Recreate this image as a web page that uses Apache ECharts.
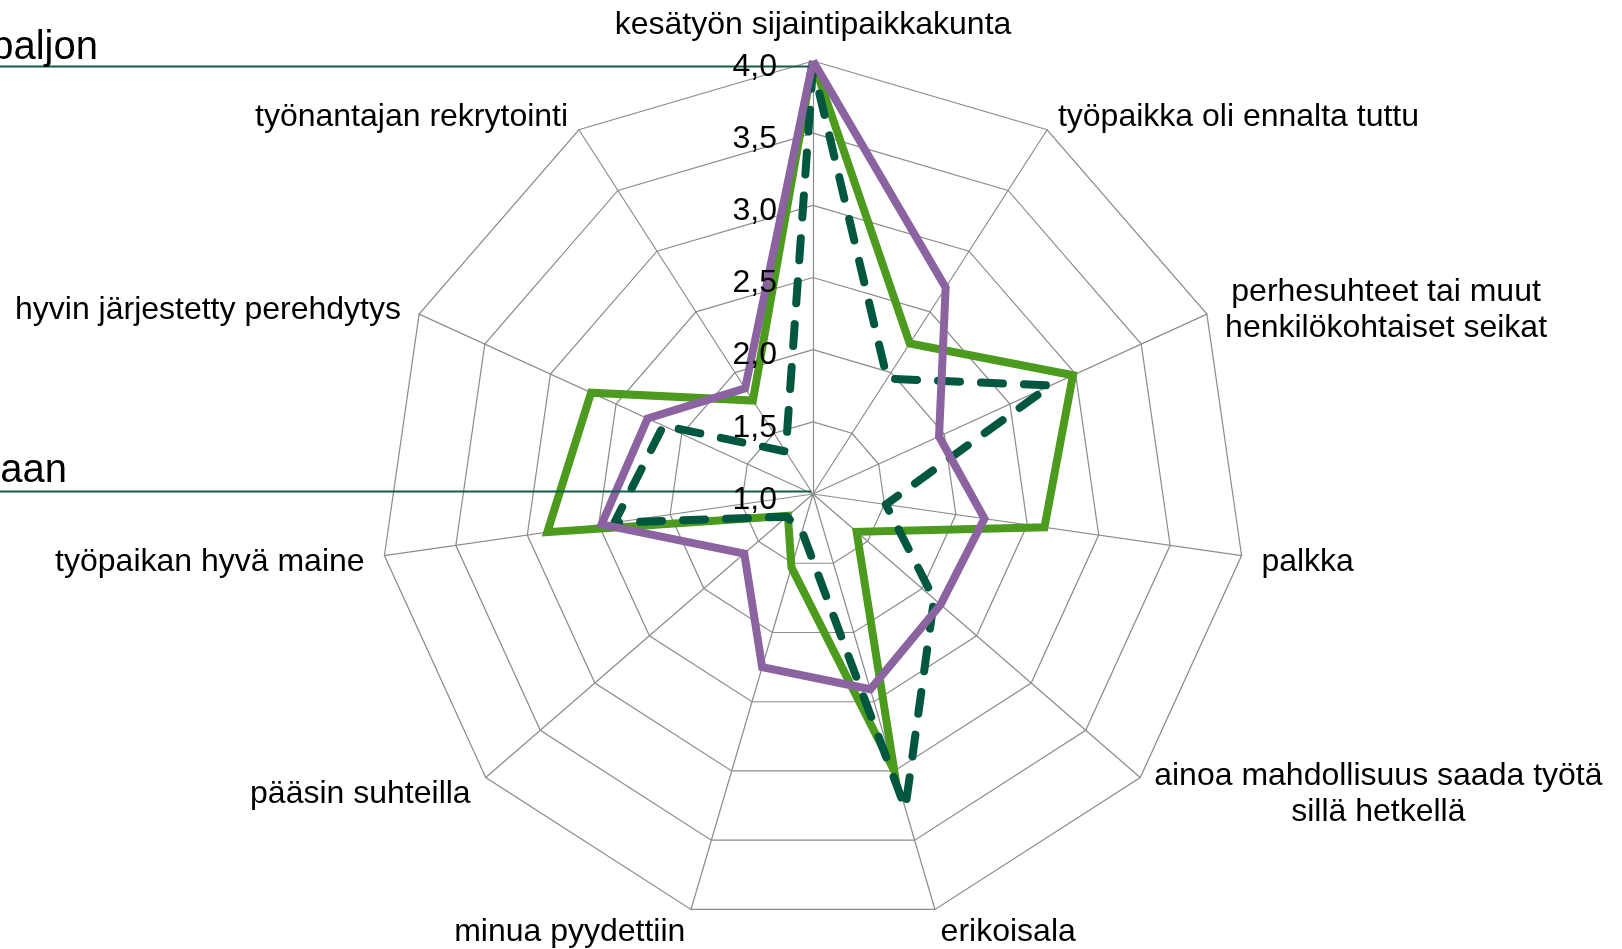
<!DOCTYPE html>
<html>
<head>
<meta charset="utf-8">
<script src="https://cdn.jsdelivr.net/npm/echarts@6/dist/echarts.min.js"></script>
<style>
html,body{margin:0;padding:0;background:#fff;}
#chart{width:1622px;height:949px;}
</style>
</head>
<body>
<div id="chart"></div>
<script>
// Categories in clockwise order starting from the top
const categories = [
  'kesätyön sijaintipaikkakunta',
  'työpaikka oli ennalta tuttu',
  'perhesuhteet tai muut\nhenkilökohtaiset seikat',
  'palkka',
  'ainoa mahdollisuus saada työtä\nsillä hetkellä',
  'erikoisala',
  'minua pyydettiin',
  'pääsin suhteilla',
  'työpaikan hyvä maine',
  'hyvin järjestetty perehdytys',
  'työnantajan rekrytointi'
];
const seriesGreen  = [4.00, 2.24, 2.98, 2.62, 1.40, 3.00, 1.53, 1.23, 2.86, 2.69, 1.77];
const seriesDashed = [3.96, 1.95, 2.81, 1.51, 2.11, 3.27, 1.27, 1.24, 2.39, 2.14, 1.35];
const seriesPurple = [4.00, 2.70, 1.96, 2.20, 2.17, 2.41, 2.25, 1.63, 2.48, 2.26, 1.87];
const tickValues = [1.0, 1.5, 2.0, 2.5, 3.0, 3.5, 4.0];
const annotationTop = 'paljon';
const annotationBottom = 'aan';

const AXIS_MIN = 1, AXIS_MAX = 4;
const FONT = '"Liberation Sans", Arial, sans-serif';

// ECharts radar places indicators counter-clockwise; reorder to get clockwise.
const order = [0];
for (let i = categories.length - 1; i >= 1; i--) order.push(i);
const reorder = arr => order.map(i => arr[i]);

const indicator = reorder(categories).map(n => ({ name: n, min: AXIS_MIN, max: AXIS_MAX }));

const chart = echarts.init(document.getElementById('chart'), null, { renderer: 'canvas' });

const cx = 813, cy = 494, R = 433;

const option = {
  backgroundColor: '#ffffff',
  animation: false,
  textStyle: { fontFamily: FONT },
  radar: {
    center: [cx, cy],
    radius: R,
    startAngle: 90,
    splitNumber: 6,
    shape: 'polygon',
    indicator: indicator,
    axisName: {
      color: '#000',
      fontSize: 32,
      fontFamily: FONT,
      padding: [8, 0, 0, 0],
      formatter: function (name) {
        if (name.indexOf('\n') < 0) return name;
        const lines = name.split('\n');
        const key = lines[0].indexOf('ainoa') === 0 ? 'w4' : 'w2';
        return lines.map(l => '{' + key + '|' + l + '}').join('\n');
      },
      rich: {
        w2: { width: 322, align: 'center', fontSize: 32, lineHeight: 36, color: '#000', fontFamily: FONT },
        w4: { width: 446, align: 'center', fontSize: 32, lineHeight: 36, color: '#000', fontFamily: FONT }
      }
    },
    nameGap: 20,
    axisLine: { lineStyle: { color: '#8c8c8c', width: 1.2 } },
    splitLine: { lineStyle: { color: '#8c8c8c', width: 1.2 } },
    splitArea: { show: false },
    axisTick: { show: false },
    axisLabel: { show: false }
  },
  grid: { left: cx, top: cy - R + 6, width: 1, height: R, containLabel: false },
  xAxis: { type: 'value', show: false },
  yAxis: {
    type: 'value',
    min: AXIS_MIN,
    max: AXIS_MAX,
    interval: 0.5,
    z: 10,
    axisLine: { show: false },
    axisTick: { show: false },
    splitLine: { show: false },
    axisLabel: {
      show: true,
      margin: 36,
      fontSize: 32,
      color: '#000',
      fontFamily: FONT,
      formatter: v => tickValues.indexOf(v) >= 0 ? v.toFixed(1).replace('.', ',') : ''
    }
  },
  graphic: [
    { type: 'line', shape: { x1: 0, y1: 66.5, x2: 809, y2: 66.5 }, style: { stroke: '#0c5e4a', lineWidth: 2 }, z: 5 },
    { type: 'line', shape: { x1: 0, y1: 491.5, x2: 811, y2: 491.5 }, style: { stroke: '#0c5e4a', lineWidth: 2 }, z: 5 },
    { type: 'text', x: 98, y: 68, style: { text: annotationTop, fill: '#000', font: '40px ' + FONT, textAlign: 'right', textVerticalAlign: 'bottom' }, z: 5 },
    { type: 'text', x: 67, y: 491, style: { text: annotationBottom, fill: '#000', font: '40px ' + FONT, textAlign: 'right', textVerticalAlign: 'bottom' }, z: 5 }
  ],
  series: [
    {
      type: 'radar',
      z: 2,
      symbol: 'none',
      lineStyle: { color: '#4c9a1e', width: 8, join: 'miter' },
      itemStyle: { color: '#4c9a1e' },
      data: [{ value: reorder(seriesGreen) }]
    },
    {
      type: 'radar',
      z: 3,
      symbol: 'none',
      lineStyle: { color: '#00573f', width: 8, type: [22, 21], cap: 'round', join: 'round' },
      itemStyle: { color: '#00573f' },
      data: [{ value: reorder(seriesDashed) }]
    },
    {
      type: 'radar',
      z: 4,
      symbol: 'none',
      lineStyle: { color: '#8a63a0', width: 8, join: 'miter' },
      itemStyle: { color: '#8a63a0' },
      data: [{ value: reorder(seriesPurple) }]
    }
  ]
};
chart.setOption(option);
</script>
</body>
</html>
